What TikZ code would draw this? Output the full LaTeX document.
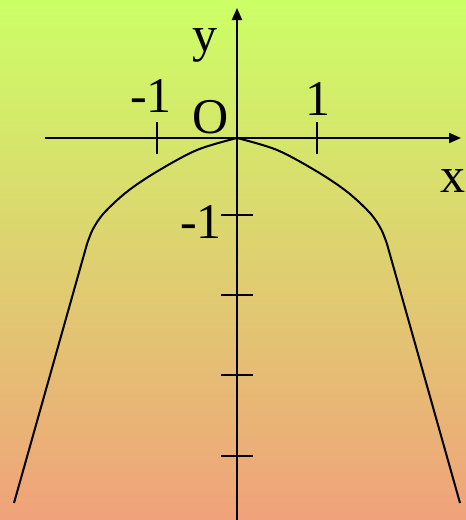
\documentclass[tikz,border=0pt]{standalone}
\usepackage{fontspec}
\setmainfont{Liberation Serif}
\usetikzlibrary{arrows.meta}
\definecolor{bgtop}{RGB}{204,255,102}
\definecolor{bgbot}{RGB}{240,162,122}
\tikzset{
  axis/.style={line width=2pt,-{Triangle[length=12pt,width=10pt]}},
  tickmark/.style={line width=2pt},
  curve/.style={line width=2pt,line join=round},
  lab/.style={font=\fontsize{50}{60}\selectfont,inner sep=0pt,anchor=base}
}
\begin{document}
\begin{tikzpicture}[x=1pt,y=-1pt]
\useasboundingbox (0,0) rectangle (466,520);
\shade[top color=bgtop,bottom color=bgbot] (0,0) rectangle (466,520);
% axes
\coordinate (xs) at (45,138);
\coordinate (xe) at (461,138);
\coordinate (ys) at (237,520);
\coordinate (ye) at (237,8);
\draw[axis] (xs) -- (xe);
\draw[axis] (ys) -- (ye);
% x ticks
\draw[tickmark] (157,122) coordinate (tm1a) -- (157,154) coordinate (tm1b);
\draw[tickmark] (317,122) coordinate (tp1a) -- (317,154) coordinate (tp1b);
% y ticks
\foreach \yy [count=\i] in {215,295,375,456}{
  \draw[tickmark] (221,\yy) coordinate (ta\i) -- (253,\yy) coordinate (tb\i);
}
% labels
\node[lab] (ly) at (205,51) {y};
\node[lab] (lx) at (453,192) {x};
\node[lab] (lo) at (211,133) {O};
\node[lab] (lm1) at (151,112) {-1};
\node[lab] (lp1) at (318,115) {1};
\node[lab] (lym1) at (201,238) {-1};
% curve
\draw[curve] plot[smooth,tension=0.55] coordinates {(237,138) (277,150) (317,171.5) (347,191.7) (370,213) (381,229) (387,244)} -- (460,503);
\draw[curve] plot[smooth,tension=0.55] coordinates {(237,138) (197,150) (157,171.5) (127,191.7) (104,213) (93,229) (87,244)} -- (14,503);
\end{tikzpicture}
\end{document}
